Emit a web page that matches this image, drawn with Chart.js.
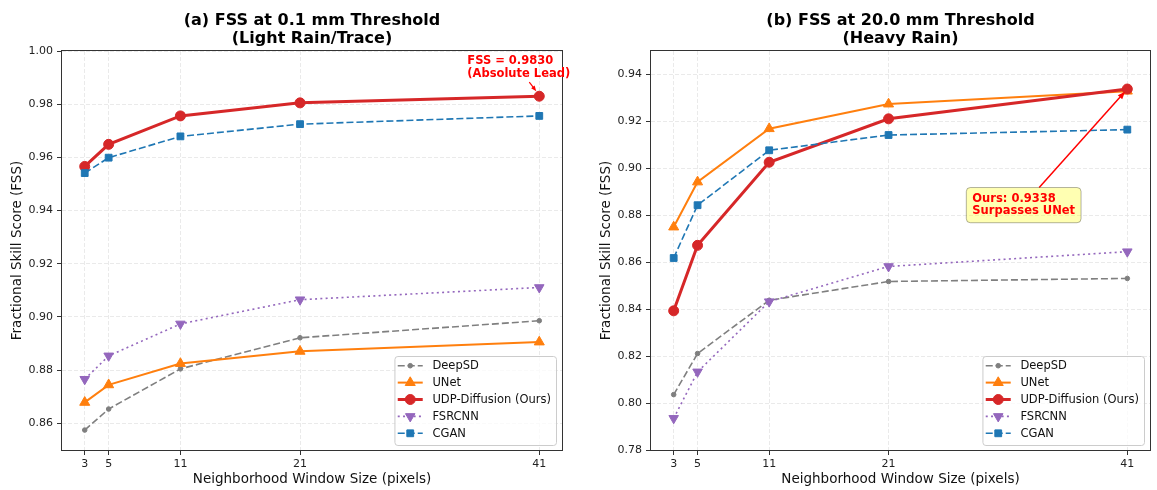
<!DOCTYPE html>
<html>
<head>
<meta charset="utf-8">
<script src="https://cdn.jsdelivr.net/npm/chart.js@4.4.1/dist/chart.umd.min.js"></script>
<style>
  body { margin: 0; background: #fff; }
  #wrap { position: relative; width: 1157px; height: 490px; }
  canvas { position: absolute; top: 0; }
  #chart-a { left: 0; }
  #chart-b { left: 589px; }
</style>
</head>
<body>
<div id="wrap">
  <canvas id="chart-a" width="578" height="490"></canvas>
  <canvas id="chart-b" width="568" height="490"></canvas>
</div>
<script>
const windowSizes = [3, 5, 11, 21, 41];
const modelNames = ["DeepSD", "UNet", "UDP-Diffusion (Ours)", "FSRCNN", "CGAN"];
const yTicksA = [0.86, 0.88, 0.90, 0.92, 0.94, 0.96, 0.98, 1.00];
const yTicksB = [0.78, 0.80, 0.82, 0.84, 0.86, 0.88, 0.90, 0.92, 0.94];

// (a) 0.1 mm threshold
const deepsdA = [0.8575, 0.8654, 0.8805, 0.8922, 0.8986];
const unetA   = [0.8679, 0.8745, 0.8825, 0.8871, 0.8906];
const udpA    = [0.9566, 0.9649, 0.9756, 0.9805, 0.9830];
const fsrcnnA = [0.8766, 0.8854, 0.8974, 0.9065, 0.9111];
const cganA   = [0.9541, 0.9599, 0.9679, 0.9725, 0.9756];

// (b) 20.0 mm threshold
const deepsdB = [0.8036, 0.8211, 0.8438, 0.8518, 0.8531];
const unetB   = [0.8750, 0.8942, 0.9169, 0.9274, 0.9329];
const udpB    = [0.8393, 0.8672, 0.9026, 0.9211, 0.9338];
const fsrcnnB = [0.7935, 0.8133, 0.8432, 0.8582, 0.8645];
const cganB   = [0.8618, 0.8843, 0.9077, 0.9142, 0.9165];

const font = "'DejaVu Sans', sans-serif";

const styles = [
  { color: "#7f7f7f", width: 1.6, dash: [7, 3], marker: "circle", radius: 2.3, rotation: 0 },
  { color: "#ff7f0e", width: 2, dash: [], marker: "triangle", radius: 5.8, rotation: 0 },
  { color: "#d62728", width: 3, dash: [], marker: "circle", radius: 5, rotation: 0 },
  { color: "#9467bd", width: 1.6, dash: [2, 3.3], marker: "triangle", radius: 5.5, rotation: 180 },
  { color: "#1f77b4", width: 1.6, dash: [7, 3], marker: "rect", radius: 4.8, rotation: 0 }
];

const makeDatasets = (series) => series.map((values, i) => ({
  label: modelNames[i],
  data: windowSizes.map((w, j) => ({ x: w, y: values[j] })),
  borderColor: styles[i].color,
  backgroundColor: styles[i].color,
  borderWidth: styles[i].width,
  borderDash: styles[i].dash,
  pointStyle: styles[i].marker,
  pointRadius: styles[i].radius,
  pointRotation: styles[i].rotation,
  pointBorderWidth: 1,
  tension: 0,
  order: -i
}));

const makeOptions = (titleLines, yMin, yMax, yTicks, rightPad) => ({
  responsive: false,
  animation: false,
  devicePixelRatio: 1,
  layout: { padding: { left: 0, right: rightPad, top: 0, bottom: 0 } },
  plugins: {
    legend: { display: false },
    tooltip: { enabled: false },
    title: {
      display: true,
      text: titleLines,
      fullSize: false,
      color: "#000",
      font: { family: font, size: 16, weight: "bold", lineHeight: 1.125 },
      padding: { top: 11.5, bottom: 3.5 }
    }
  },
  scales: {
    x: {
      type: "linear",
      min: 1.1,
      max: 42.9,
      afterBuildTicks: (s) => { s.ticks = windowSizes.map(v => ({ value: v })); },
      afterFit: (s) => { s.height = 40; },
      ticks: { autoSkip: false, maxRotation: 0, padding: 3, color: "#222", font: { family: font, size: 11 }, callback: v => String(v) },
      grid: { color: "#e4e4e4", lineWidth: 0.8, tickLength: 5, tickColor: "#333", tickWidth: 1 },
      border: { display: false, dash: [4, 2] },
      title: { display: true, text: "Neighborhood Window Size (pixels)", color: "#111", font: { family: font, size: 13.5 }, padding: { top: 0, bottom: 2 } }
    },
    y: {
      min: yMin,
      max: yMax,
      afterBuildTicks: (s) => { s.ticks = yTicks.map(v => ({ value: v })); },
      afterFit: (s) => { s.width = 62; },
      ticks: { padding: 4, color: "#222", font: { family: font, size: 11 }, callback: v => v.toFixed(2) },
      grid: { color: "#e4e4e4", lineWidth: 0.8, tickLength: 5, tickColor: "#333", tickWidth: 1 },
      border: { display: false, dash: [4, 2] },
      title: { display: true, text: "Fractional Skill Score (FSS)", color: "#111", font: { family: font, size: 13.5 }, padding: { top: 9, bottom: 0 } }
    }
  }
});

const drawFrame = (chart) => {
  const { ctx, chartArea: ca } = chart;
  ctx.save();
  ctx.strokeStyle = "#333";
  ctx.lineWidth = 1;
  ctx.strokeRect(Math.round(ca.left) - 0.5, Math.round(ca.top) - 0.5,
    Math.round(ca.right - ca.left) + 1, Math.round(ca.bottom - ca.top) + 1);
  ctx.restore();
};

const drawMarker = (ctx, st, x, y) => {
  const r = st.radius;
  ctx.beginPath();
  if (st.marker === "circle") {
    ctx.arc(x, y, r, 0, Math.PI * 2);
  } else if (st.marker === "rect") {
    const s = r * Math.SQRT1_2;
    ctx.rect(x - s, y - s, 2 * s, 2 * s);
  } else {
    let a = st.rotation * Math.PI / 180;
    for (let k = 0; k < 3; k++) {
      const px = x + Math.sin(a) * r, py = y - Math.cos(a) * r;
      if (k === 0) ctx.moveTo(px, py); else ctx.lineTo(px, py);
      a += Math.PI * 2 / 3;
    }
    ctx.closePath();
  }
  ctx.fill();
  ctx.stroke();
};

const drawLegend = (chart) => {
  const { ctx, chartArea: ca } = chart;
  ctx.save();
  ctx.font = "11.5px " + font;
  const maxW = Math.max(...modelNames.map(n => ctx.measureText(n).width));
  const w = 38 + maxW + 5, h = 89;
  const x0 = ca.right - 6 - w, y0 = ca.bottom - 5 - h;
  ctx.beginPath();
  ctx.roundRect(x0 + 0.5, y0 + 0.5, w, h, 3);
  ctx.fillStyle = "rgba(255,255,255,0.8)";
  ctx.fill();
  ctx.strokeStyle = "#cccccc";
  ctx.lineWidth = 1;
  ctx.stroke();
  modelNames.forEach((name, i) => {
    const st = styles[i];
    const y = y0 + 9.7 + i * 16.9;
    ctx.strokeStyle = st.color;
    ctx.fillStyle = st.color;
    ctx.lineWidth = st.width;
    ctx.setLineDash(st.dash);
    ctx.beginPath();
    ctx.moveTo(x0 + 3.3, y);
    ctx.lineTo(x0 + 28.3, y);
    ctx.stroke();
    ctx.setLineDash([]);
    ctx.lineWidth = 1;
    drawMarker(ctx, st, x0 + 15.8, y);
    ctx.fillStyle = "#111";
    ctx.textBaseline = "middle";
    ctx.textAlign = "left";
    ctx.fillText(name, x0 + 38, y + 0.5);
  });
  ctx.restore();
};

const drawArrow = (ctx, x1, y1, x2, y2, width, head) => {
  const ang = Math.atan2(y2 - y1, x2 - x1);
  ctx.save();
  ctx.strokeStyle = "red";
  ctx.fillStyle = "red";
  ctx.lineWidth = width;
  ctx.beginPath();
  ctx.moveTo(x1, y1);
  ctx.lineTo(x2 - Math.cos(ang) * head * 0.7, y2 - Math.sin(ang) * head * 0.7);
  ctx.stroke();
  ctx.beginPath();
  ctx.moveTo(x2, y2);
  ctx.lineTo(x2 - head * Math.cos(ang - 0.38), y2 - head * Math.sin(ang - 0.38));
  ctx.lineTo(x2 - head * Math.cos(ang + 0.38), y2 - head * Math.sin(ang + 0.38));
  ctx.closePath();
  ctx.fill();
  ctx.restore();
};

const decorA = {
  id: "decorA",
  afterDraw(chart) {
    drawFrame(chart);
    const ctx = chart.ctx;
    const px = chart.scales.x.getPixelForValue(windowSizes[4]);
    const py = chart.scales.y.getPixelForValue(udpA[4]);
    ctx.save();
    ctx.font = "bold 11.5px " + font;
    ctx.fillStyle = "red";
    ctx.textBaseline = "middle";
    ctx.textAlign = "left";
    ctx.fillText("FSS = " + udpA[4].toFixed(4), px - 72, py - 35);
    ctx.fillText("(Absolute Lead)", px - 72, py - 22);
    ctx.restore();
    drawArrow(ctx, px - 10, py - 14, px - 3, py - 5, 1.2, 6);
    drawLegend(chart);
  }
};

const decorB = {
  id: "decorB",
  afterDraw(chart) {
    drawFrame(chart);
    const ctx = chart.ctx;
    const px = chart.scales.x.getPixelForValue(windowSizes[4]);
    const py = chart.scales.y.getPixelForValue(udpB[4]);
    const lines = ["Ours: " + udpB[4].toFixed(4), "Surpasses UNet"];
    const tx = px - 155, ty1 = py + 109.5, ty2 = py + 122.2;
    ctx.save();
    ctx.font = "bold 11.5px " + font;
    const tw = Math.max(...lines.map(l => ctx.measureText(l).width));
    const bx = tx - 6, by = ty1 - 11, bw = tw + 12, bh = ty2 + 11.5 - by;
    // arrow from box edge to the point
    const cx = tx + tw / 2, cy = (ty1 + ty2) / 2;
    const t = (cy - by) / (cy - py);
    const sx = cx + t * (px - cx);
    const len = Math.hypot(px - sx, py - by);
    const ex = px - (px - sx) / len * 3.5, ey = py - (py - by) / len * 3.5;
    drawArrow(ctx, sx, by, ex, ey, 1.5, 8);
    ctx.beginPath();
    ctx.roundRect(bx, by, bw, bh, 4);
    ctx.fillStyle = "rgba(255,255,0,0.3)";
    ctx.fill();
    ctx.strokeStyle = "rgba(0,0,0,0.3)";
    ctx.lineWidth = 1;
    ctx.stroke();
    ctx.fillStyle = "red";
    ctx.textBaseline = "middle";
    ctx.textAlign = "left";
    ctx.fillText(lines[0], tx, ty1);
    ctx.fillText(lines[1], tx, ty2);
    ctx.restore();
    drawLegend(chart);
  }
};

new Chart(document.getElementById("chart-a"), {
  type: "line",
  data: { datasets: makeDatasets([deepsdA, unetA, udpA, fsrcnnA, cganA]) },
  options: makeOptions(["(a) FSS at 0.1 mm Threshold", "(Light Rain/Trace)"], 0.85, 1.00, yTicksA, 16),
  plugins: [decorA]
});

new Chart(document.getElementById("chart-b"), {
  type: "line",
  data: { datasets: makeDatasets([deepsdB, unetB, udpB, fsrcnnB, cganB]) },
  options: makeOptions(["(b) FSS at 20.0 mm Threshold", "(Heavy Rain)"], 0.78, 0.95, yTicksB, 7),
  plugins: [decorB]
});
</script>
</body>
</html>
